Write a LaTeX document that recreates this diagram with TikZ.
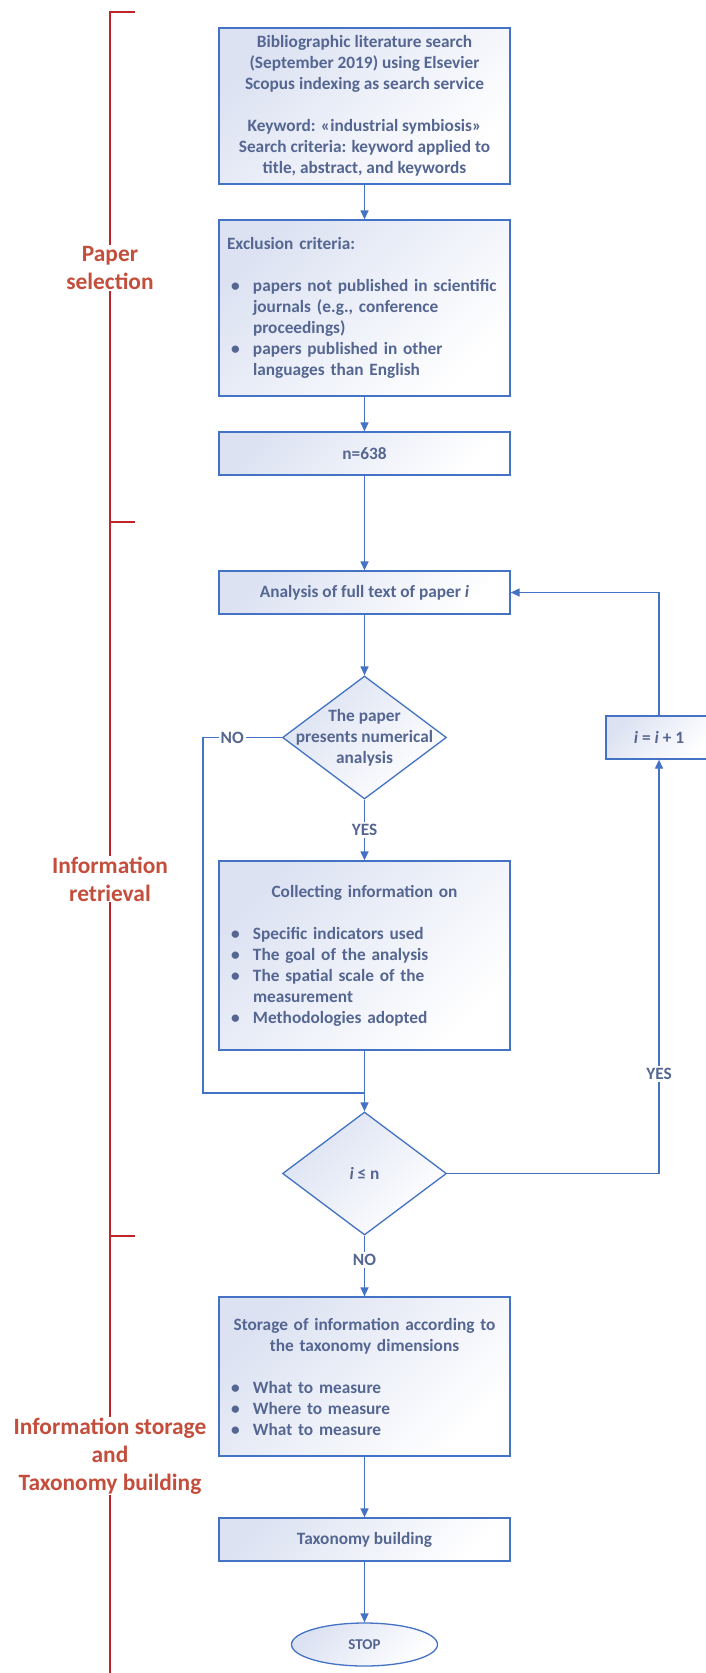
\documentclass[tikz,border=0pt]{standalone}
\usepackage{fontspec}
\setmainfont{Carlito}
\usetikzlibrary{shapes.geometric,arrows.meta}
\definecolor{lineblue}{RGB}{68,114,196}
\definecolor{txt}{RGB}{84,102,145}
\definecolor{fillc}{RGB}{220,226,242}
\definecolor{labred}{RGB}{196,78,60}
\definecolor{brk}{RGB}{192,36,40}
\newcommand{\bfont}{\fontsize{17.3}{21}\selectfont\bfseries}
\newcommand{\lfont}{\fontsize{23.4}{28}\selectfont\bfseries}
\newcommand{\bl}[1]{\mbox{\makebox[26pt][l]{\hspace{4pt}•}#1}}
\newcommand{\cl}[1]{\mbox{\hspace*{26pt}#1}}
\newcommand{\ctr}[1]{\makebox[275pt][c]{#1}}
\begin{document}
\begin{tikzpicture}[x=1pt,y=-1pt,
  base/.style={draw=lineblue, line width=1.3pt, top color=fillc, bottom color=white, shading angle=45, text=txt, font=\bfont, inner sep=0pt},
  proc/.style={base, rectangle, minimum width=291pt},
  dia/.style={base, diamond, minimum width=164pt, minimum height=123pt},
  term/.style={base, ellipse, minimum width=146pt, minimum height=43pt, font=\fontsize{15}{18}\selectfont\bfseries},
  arr/.style={draw=lineblue, line width=1.3pt, -{Triangle[length=9pt,width=8pt]}},
  con/.style={draw=lineblue, line width=1.3pt},
  lbl/.style={fill=white, text=txt, font=\bfont, inner sep=2pt},
  dtext/.style={text=txt, font=\bfont, align=center},
  phase/.style={fill=white, text=labred, font=\lfont, align=center, inner sep=1pt},
  brace/.style={draw=brk, line width=1.6pt}
]
\useasboundingbox (0,0) rectangle (705,1673);

% phase bracket
\draw[brace] (135,12) -- (110,12) -- (110,1673);
\draw[brace] (110,522) -- (135,522);
\draw[brace] (110,1236) -- (135,1236);
\node[phase] (p1) at (110,268) {Paper\\selection};
\node[phase] (p2) at (110,879) {Information\\retrieval};
\node[phase] (p3) at (110,1456) {Information storage\\and\\Taxonomy building};

% boxes
\node[proc, minimum height=156pt, align=center] (b1) at (364.5,106)
  {Bibliographic literature search\\(September 2019) using Elsevier\\Scopus indexing as search service\\[21pt]Keyword: «industrial symbiosis»\\Search criteria: keyword applied to\\title, abstract, and keywords};
\node[proc, minimum height=176pt, align=left, text width=275pt] (b2) at (364.5,308)
  {Exclusion criteria:\\[21pt]\bl{papers not published in scientific}\\\cl{journals (e.g., conference}\\\cl{proceedings)}\\\bl{papers published in other}\\\cl{languages than English}};
\node[proc, minimum height=43pt] (b3) at (364.5,453.5) {n=638};
\node[proc, minimum height=43pt] (b4) at (364.5,592.5) {Analysis of full text of paper \textit{i}};
\node[dia, label={[dtext]center:The paper\\presents numerical\\analysis}] (d1) at (364.5,737.5) {};
\node[proc, minimum height=189pt, align=left, text width=275pt] (b5) at (364.5,955.5)
  {\ctr{Collecting information on}\\[21pt]\bl{Specific indicators used}\\\bl{The goal of the analysis}\\\bl{The spatial scale of the}\\\cl{measurement}\\\bl{Methodologies adopted}};
\node[dia, label={[dtext]center:\textit{i} ≤ n}] (d2) at (364.5,1173.5) {};
\node[proc, minimum height=159pt, align=left, text width=275pt] (b6) at (364.5,1376.5)
  {\ctr{Storage of information according to}\\\ctr{the taxonomy dimensions}\\[21pt]\bl{What to measure}\\\bl{Where to measure}\\\bl{What to measure}};
\node[proc, minimum height=43pt] (b7) at (364.5,1539.5) {Taxonomy building};
\node[term] (stop) at (364.5,1644.5) {STOP};
\node[proc, minimum width=106pt, minimum height=43pt] (inc) at (659,737.5) {\textit{i} = \textit{i} + 1};

% connectors
\coordinate (nol) at (203,737.5);
\coordinate (mrg) at (364.5,1093);
\coordinate (yc) at (inc.south |- d2.east);
\draw[arr] (b1) -- (b2);
\draw[arr] (b2) -- (b3);
\draw[arr] (b3) -- (b4);
\draw[arr] (b4) -- (d1);
\draw[arr] (d1.south) -- node[lbl]{YES} (b5.north);
\draw[con] (d1.west) -- node[lbl, pos=0.63]{NO} (nol) |- (mrg);
\draw[arr] (b5) -- (d2);
\draw[arr] (d2.south) -- node[lbl, pos=0.4]{NO} (b6.north);
\draw[arr] (b6) -- (b7);
\draw[arr] (b7) -- (stop);
\draw[arr] (d2.east) -- (yc) -- node[lbl, pos=0.24]{YES} (inc.south);
\draw[arr] (inc.north) |- (b4.east);
\end{tikzpicture}
\end{document}
